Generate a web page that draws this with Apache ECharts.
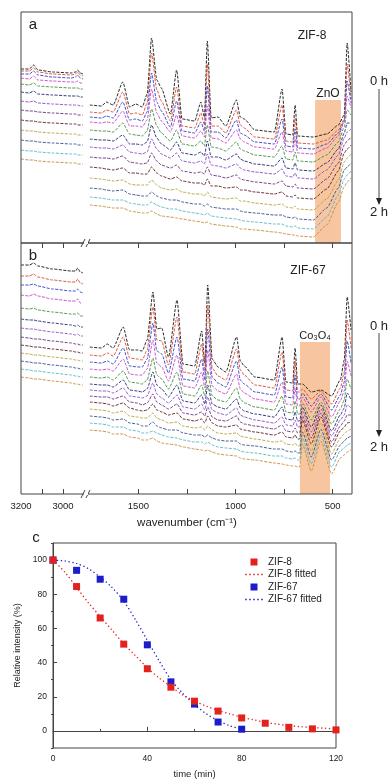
<!DOCTYPE html>
<html>
<head>
<meta charset="utf-8">
<script src="https://cdn.jsdelivr.net/npm/echarts@6/dist/echarts.min.js"></script>
<style>
html,body{margin:0;padding:0;background:#fff;}
#chart{width:390px;height:780px;}
</style>
</head>
<body>
<div id="chart"></div>
<script>
// ---------- DATA ----------
// wavenumber grids (cm-1)
const WN_LEFT = [3200,3160,3140,3120,3050,2960,2940,2930,2918,2905];
const WN_ZIF8 = [1750,1690,1665,1630,1580,1545,1513,1480,1455,1432,1405,1382,1335,1303,1275,1210,1178,1160,1145,1125,1090,1050,995,975,955,900,800,760,740,705,693,680,600,530,470,440,425,405];
const WN_ZIF67 = [1750,1690,1660,1630,1578,1545,1505,1480,1455,1425,1405,1380,1345,1301,1270,1210,1174,1158,1143,1120,1090,1050,994,975,955,900,800,760,740,705,693,680,670,655,610,560,505,460,440,425,405];

// stacked IR intensities (a.u., offset), one row per 10 min, 0 h -> 2 h
const zif8Left = [
[174,174,178,173,171,170,171,173,170,169],
[172,172,175,171,169,168,169,171,168,167],
[169,169,172,168,166,165,166,168,165,164],
[165,164,167,163,162,161,161,162,160,160],
[159,158,160,157,156,155,155,155,154,154],
[151,150,152,149,148,147,147,147,146,146],
[142,141,142,140,139,138,138,138,137,137],
[133,132,132,131,130,129,129,128,128,128],
[123,122,122,121,120,119,119,118,118,118],
[113,112,112,111,110,109,109,108,108,108],
[103,102,102,101,100,99,99,98,98,98],
[93,92,92,91,90,89,89,88,88,88],
[84,83,83,82,81,80,80,79,79,79]
];
const zif8Right = [
[138,137,141,138,161,136,139,136,149,205,163,155,129,173,124,122,141,126,202,125,126,117,143,126,124,113,111,154,109,108,138,107,106,109,118,128,200,151],
[131,130,133,131,151,129,130,128,140,190,153,142,122,156,117,115,130,118,179,117,117,110,133,118,115,106,104,138,102,101,125,100,99,103,113,124,179,144],
[126,125,127,125,141,123,124,122,131,170,141,132,116,142,112,110,121,112,157,111,111,105,123,110,108,101,99,124,97,96,114,95,94,99,110,122,162,140],
[121,120,121,120,132,117,117,116,123,154,130,122,111,128,107,105,112,106,137,105,104,100,113,104,101,96,94,111,92,91,104,90,89,95,107,121,147,135],
[113,112,112,111,120,109,108,107,112,134,117,110,102,113,99,97,102,97,118,96,95,92,101,94,92,88,86,97,84,83,91,82,81,88,101,116,133,128],
[104,103,103,102,108,99,99,98,101,118,105,99,93,101,90,88,91,87,102,86,86,83,89,84,82,79,77,85,75,74,80,73,72,80,94,110,120,120],
[96,95,95,94,98,91,90,89,91,104,94,89,85,90,82,80,82,79,89,78,77,75,79,75,73,71,69,74,67,66,70,65,64,73,88,105,111,114],
[86,85,85,84,87,81,80,79,80,90,82,78,75,78,72,70,71,69,76,68,67,65,68,64,63,61,59,62,57,56,59,55,54,64,80,98,102,106],
[76,75,74,73,75,70,70,69,69,76,70,67,64,66,62,60,60,58,64,57,57,55,56,53,53,51,49,51,47,46,48,45,44,54,72,90,94,98],
[65,64,63,62,63,59,58,58,58,63,58,55,53,54,51,49,49,47,51,46,45,44,45,42,42,40,38,39,36,35,37,34,33,44,63,81,85,89],
[55,54,53,52,53,49,48,47,47,51,47,45,43,43,41,39,39,37,39,36,35,34,34,32,31,30,28,28,26,25,26,24,23,35,55,73,76,80],
[46,45,44,43,43,40,39,38,38,41,38,36,34,34,32,30,29,28,30,27,26,25,24,23,22,21,19,19,17,16,17,15,14,26,48,64,68,72],
[38,37,36,35,35,32,31,30,30,32,29,27,26,25,24,22,21,20,21,19,18,17,16,14,14,13,11,10,9,8,8,7,6,18,41,56,61,65]
];
const zif67Left = [
[229,229,231,228,225,223,223,226,222,221],
[218,218,220,217,214,212,212,215,211,210],
[209,209,210,208,205,203,203,205,202,201],
[199,198,200,198,195,193,193,195,191,191],
[186,185,186,184,182,180,180,181,178,178],
[175,174,174,173,171,169,168,169,167,167],
[166,165,165,164,162,160,159,160,158,158],
[157,156,155,155,153,151,150,150,149,149],
[149,148,147,147,145,143,142,142,141,141],
[141,140,139,139,137,135,134,134,133,133],
[133,132,131,131,129,127,126,126,125,125],
[125,124,123,123,121,119,118,118,117,117],
[117,116,115,115,113,111,110,110,109,109]
];
const zif67Right = [
[147,146,150,146,167,144,144,143,154,202,165,166,137,194,130,128,163,131,209,135,127,122,157,133,128,117,114,157,112,111,146,110,110,110,102,104,98,114,134,197,164],
[139,138,141,138,157,136,135,134,144,187,154,153,129,177,122,120,150,122,189,126,118,114,145,124,119,109,106,142,104,103,133,102,102,105,95,103,90,106,122,174,146],
[132,131,133,130,146,128,127,127,135,171,143,140,121,157,115,113,135,114,165,117,111,107,133,114,110,102,99,127,97,96,119,95,95,101,88,100,84,99,112,153,131],
[125,124,125,123,135,120,119,119,125,154,131,127,113,139,108,106,122,106,144,108,103,100,120,105,101,95,92,112,90,89,106,88,88,97,82,97,77,93,103,133,118],
[117,116,117,114,123,112,111,110,114,136,119,115,105,122,100,98,109,98,123,98,94,92,106,95,91,87,84,98,82,81,93,80,80,91,74,92,70,85,94,115,105],
[110,109,109,107,114,104,103,102,105,122,109,105,97,109,93,91,99,90,109,90,87,85,95,86,83,80,77,87,75,74,82,73,73,87,67,89,63,79,86,101,94],
[104,103,103,101,106,98,97,96,98,111,100,96,91,99,87,85,90,84,97,84,81,79,86,79,77,74,71,77,69,68,74,67,67,83,62,85,58,74,79,89,86],
[98,97,97,95,98,92,91,89,91,100,92,89,85,90,81,79,82,78,87,77,74,73,78,72,70,68,65,69,63,62,66,61,61,78,56,81,52,68,73,79,79],
[92,91,90,88,91,86,84,83,84,90,84,82,79,81,75,73,75,71,78,71,68,67,69,65,64,62,59,62,57,56,59,55,55,74,50,77,47,63,67,71,72],
[85,84,83,81,83,78,77,76,76,81,76,74,71,72,68,66,67,64,68,64,61,60,61,58,57,55,52,53,50,49,51,48,48,68,43,71,40,56,60,63,65],
[78,77,76,74,75,71,70,68,68,72,68,66,64,64,61,59,59,57,59,56,54,53,53,50,49,48,45,45,43,42,43,41,41,62,37,65,34,49,53,56,58],
[71,70,69,67,67,64,63,61,61,63,61,59,57,56,54,52,52,50,52,49,47,46,45,43,42,41,38,38,36,35,36,34,34,56,30,59,27,43,46,49,51],
[64,63,62,60,60,57,56,54,54,56,53,51,50,49,47,45,44,43,44,42,40,39,38,36,35,34,31,30,29,28,28,27,27,50,23,53,20,36,39,42,44]
];
// shaded bands (cm-1)
const ZNO_BAND = [590, 457];
const CO3O4_BAND = [668, 513];

// axis ticks
const TICKS_LEFT = [3100, 3000];
const LABELS_LEFT = [3200, 3000];
const TICKS_RIGHT = [1500, 1250, 1000, 750, 500];
const LABELS_RIGHT = [1500, 1000, 500];

// panel c: relative intensity (%)
const TIME_ZIF8 = [0,10,20,30,40,50,60,70,80,90,100,110,120];
const REL_ZIF8 = [100,84.5,66.1,50.8,36.4,25.6,17.4,11.6,7.6,4.5,2.1,1.2,0.6];
const TIME_ZIF67 = [0,10,20,30,40,50,60,70,80];
const REL_ZIF67 = [100,94.0,88.8,77.1,50.4,28.7,15.7,5.2,1.0];
const TIME_FIT8 = [0,5,10,15,20,25,30,35,40,45,50,55,60,65,70,75,80,85,90,95,100,105,110,115,120];
const FIT_ZIF8 = [100,93,84,75,67,59,51,44,37,31,26,21,17.5,14.5,12,10,8,6.5,5,4,3,2.5,2,1.6,1.2];
const TIME_FIT67 = [0,5,10,15,20,25,30,35,40,45,50,55,60,65,70,75,80];
const FIT_ZIF67 = [100,99.5,98,95,90,84,76,65,53,41,30,22,15.5,10,6,3,1];
const C_X_MAJOR = [0,40,80,120];
const C_X_MINOR = [20,60,100];
const C_Y_MAJOR = [0,20,40,60,80,100];
const C_Y_MINOR = [-10,10,30,50,70,90,110];

// ---------- STYLE ----------
const FONT = 'Liberation Sans, Arial, Helvetica, sans-serif';
const TRACE_COLORS = ['#111111','#d9442a','#2b3bc9','#c840c8','#3d8f3d','#1f2470','#8a46c8','#6a2a7a','#5a1a20','#b1a340','#2f4f8c','#52b5c9','#c58a3c'];
const BAND_COLOR = '#f7c6a0';
const RED = '#e3221e';
const BLUE = '#1c1ccc';
const ICON_SQUARE = 'path://M0,0M18,7M5.5,0h7v7h-7z';
const ICON_DOTS = 'path://M0,0M18,7M0.2,2.8h1.5v1.5h-1.5zM4.2,2.8h1.5v1.5h-1.5zM8.2,2.8h1.5v1.5h-1.5zM12.2,2.8h1.5v1.5h-1.5zM16.2,2.8h1.5v1.5h-1.5z';

function traces(rows, wn, axisIdx, extra) {
  return rows.map((row, k) => {
    const s = {
      type: 'line',
      xAxisIndex: axisIdx, yAxisIndex: axisIdx,
      data: wn.map((w, i) => [w, row[i]]),
      symbol: 'none', showSymbol: false, silent: true,
      smooth: 0.2, smoothMonotone: 'x',
      lineStyle: { color: TRACE_COLORS[k], width: 0.9, type: [3, 1.4] },
      z: 3
    };
    if (k === 0 && extra) s.markArea = extra;
    return s;
  });
}

function bandArea(band, top) {
  return {
    silent: true,
    itemStyle: { color: BAND_COLOR, opacity: 1 },
    data: [[{ xAxis: band[0], yAxis: 0 }, { xAxis: band[1], yAxis: top }]]
  };
}

const plain = v => String(v);
const hiddenAxis = (g, min, max, inv) => ({ gridIndex: g, type: 'value', min, max, inverse: inv, show: false });
function tickAxis(g, min, max, pos, ticks, labels) {
  return {
    gridIndex: g, type: 'value', min, max, inverse: true, position: pos,
    axisLine: { show: false },
    splitLine: { show: false },
    axisTick: { show: true, inside: true, length: 5, customValues: ticks, lineStyle: { color: '#444', width: 1 } },
    axisLabel: labels ? { show: true, customValues: labels, formatter: plain, fontSize: 9.5, fontFamily: FONT, color: '#222', margin: 7 } : { show: false }
  };
}

const chart = echarts.init(document.getElementById('chart'), null, { renderer: 'canvas' });

function txt(x, y, text, size, align) {
  return { type: 'text', x, y, z: 50, style: { text, fontSize: size, fontFamily: FONT, fill: '#222', align: align || 'center', verticalAlign: 'middle' } };
}
function line(x1, y1, x2, y2, w) {
  return { type: 'line', z: 40, shape: { x1, y1, x2, y2 }, style: { stroke: '#444', lineWidth: w || 1 } };
}
function arrow(x, y1, y2) {
  return [
    line(x, y1, x, y2 - 5, 1),
    { type: 'polygon', z: 40, shape: { points: [[x - 3, y2 - 7], [x + 3, y2 - 7], [x, y2]] }, style: { fill: '#222' } }
  ];
}
function breakMark(y) {
  return [
    { type: 'rect', z: 41, shape: { x: 84, y: y - 1, width: 4, height: 2 }, style: { fill: '#fff' } },
    line(81, y + 4, 85, y - 4, 1),
    line(86, y + 4, 90, y - 4, 1)
  ];
}

const graphics = [
  { type: 'rect', z: 39, shape: { x: 21, y: 12, width: 331, height: 231 }, style: { fill: 'none', stroke: '#444', lineWidth: 1 } },
  { type: 'rect', z: 39, shape: { x: 21, y: 243, width: 331, height: 251 }, style: { fill: 'none', stroke: '#444', lineWidth: 1 } },
  ...breakMark(243), ...breakMark(494),
  txt(33, 25, 'a', 15),
  txt(312, 36, 'ZIF-8', 12),
  txt(328, 94, 'ZnO', 12),
  txt(370, 81, '0 h', 13, 'left'),
  ...arrow(379, 89, 205),
  txt(370, 212, '2 h', 13, 'left'),
  txt(33, 256, 'b', 15),
  txt(308, 271, 'ZIF-67', 12),
  txt(315, 336, 'Co\u2083O\u2084', 11),
  txt(370, 326, '0 h', 13, 'left'),
  ...arrow(379, 333, 437),
  txt(370, 447, '2 h', 13, 'left'),
  txt(187, 523, 'wavenumber (cm\u207B\u00B9)', 11.5),
  txt(36, 538, 'c', 15)
];

const option = {
  animation: false,
  backgroundColor: '#fff',
  textStyle: { fontFamily: FONT },
  grid: [
    { left: 21, top: 12, width: 63, height: 231 },
    { left: 84, top: 12, width: 268, height: 231 },
    { left: 21, top: 243, width: 63, height: 251 },
    { left: 84, top: 243, width: 268, height: 251 },
    { left: 53, top: 543, width: 283, height: 206, show: true, borderColor: '#444', borderWidth: 1 }
  ],
  xAxis: [
    hiddenAxis(0, 2900, 3200, true),
    hiddenAxis(1, 400, 1780, true),
    tickAxis(2, 2900, 3200, 'bottom', TICKS_LEFT, LABELS_LEFT),
    tickAxis(3, 400, 1780, 'bottom', TICKS_RIGHT, LABELS_RIGHT),
    tickAxis(2, 2900, 3200, 'top', TICKS_LEFT, null),
    tickAxis(3, 400, 1780, 'top', TICKS_RIGHT, null),
    {
      gridIndex: 4, type: 'value', min: 0, max: 120, position: 'bottom',
      name: 'time (min)', nameLocation: 'middle', nameGap: 21,
      nameTextStyle: { fontSize: 9.5, fontFamily: FONT, color: '#222' },
      axisLine: { show: true, lineStyle: { color: '#444' } },
      splitLine: { show: false },
      axisTick: { inside: true, length: 4, customValues: C_X_MAJOR, lineStyle: { color: '#444' } },
      axisLabel: { customValues: C_X_MAJOR, formatter: plain, fontSize: 8.5, color: '#222', margin: 6 }
    },
    {
      gridIndex: 4, type: 'value', min: 0, max: 120, position: 'bottom',
      axisLine: { show: false }, splitLine: { show: false }, axisLabel: { show: false },
      axisTick: { inside: true, length: 2, customValues: C_X_MINOR, lineStyle: { color: '#444' } }
    }
  ],
  yAxis: [
    hiddenAxis(0, 0, 231, false),
    hiddenAxis(1, 0, 231, false),
    hiddenAxis(2, 0, 251, false),
    hiddenAxis(3, 0, 251, false),
    {
      gridIndex: 4, type: 'value', min: -10, max: 110,
      name: 'Relative intensity (%)', nameLocation: 'middle', nameGap: 28, nameRotate: 90,
      nameTextStyle: { fontSize: 9, fontFamily: FONT, color: '#222' },
      axisLine: { show: true, lineStyle: { color: '#444' } },
      splitLine: { show: false },
      axisTick: { inside: true, length: 4, customValues: C_Y_MAJOR, lineStyle: { color: '#444' } },
      axisLabel: { customValues: C_Y_MAJOR, formatter: plain, fontSize: 8.5, color: '#222', margin: 6 }
    },
    {
      gridIndex: 4, type: 'value', min: -10, max: 110,
      axisLine: { show: false }, splitLine: { show: false }, axisLabel: { show: false },
      axisTick: { inside: true, length: 2, customValues: C_Y_MINOR, lineStyle: { color: '#444' } }
    }
  ],
  legend: {
    orient: 'vertical', left: 240, top: 551,
    itemWidth: 18, itemHeight: 7, itemGap: 0.5,
    symbolKeepAspect: true,
    textStyle: { fontSize: 10, fontFamily: FONT, color: '#222', lineHeight: 12 },
    data: [
      { name: 'ZIF-8', icon: ICON_SQUARE, itemStyle: { color: RED } },
      { name: 'ZIF-8 fitted', icon: ICON_DOTS, itemStyle: { color: RED } },
      { name: 'ZIF-67', icon: ICON_SQUARE, itemStyle: { color: BLUE } },
      { name: 'ZIF-67 fitted', icon: ICON_DOTS, itemStyle: { color: BLUE } }
    ]
  },
  graphic: graphics,
  series: [
    ...traces(zif8Left, WN_LEFT, 0),
    ...traces(zif8Right, WN_ZIF8, 1, bandArea(ZNO_BAND, 143)),
    ...traces(zif67Left, WN_LEFT, 2),
    ...traces(zif67Right, WN_ZIF67, 3, bandArea(CO3O4_BAND, 152)),
    {
      name: 'ZIF-67 fitted', type: 'line', xAxisIndex: 6, yAxisIndex: 4,
      data: TIME_FIT67.map((t, i) => [t, FIT_ZIF67[i]]),
      symbol: 'none', smooth: 0.3, lineStyle: { color: BLUE, width: 1.3, type: [1.3, 2.6] }, itemStyle: { color: BLUE }, z: 4
    },
    {
      name: 'ZIF-67', type: 'scatter', xAxisIndex: 6, yAxisIndex: 4,
      data: TIME_ZIF67.map((t, i) => [t, REL_ZIF67[i]]),
      symbol: 'rect', symbolSize: 7, itemStyle: { color: BLUE, opacity: 1 }, z: 5
    },
    {
      name: 'ZIF-8 fitted', type: 'line', xAxisIndex: 6, yAxisIndex: 4,
      data: TIME_FIT8.map((t, i) => [t, FIT_ZIF8[i]]),
      symbol: 'none', smooth: 0.3, lineStyle: { color: RED, width: 1.3, type: [1.3, 2.6] }, itemStyle: { color: RED }, z: 6
    },
    {
      name: 'ZIF-8', type: 'scatter', xAxisIndex: 6, yAxisIndex: 4,
      data: TIME_ZIF8.map((t, i) => [t, REL_ZIF8[i]]),
      symbol: 'rect', symbolSize: 7, itemStyle: { color: RED, opacity: 1 }, z: 7
    }
  ]
};
chart.setOption(option);
</script>
</body>
</html>
